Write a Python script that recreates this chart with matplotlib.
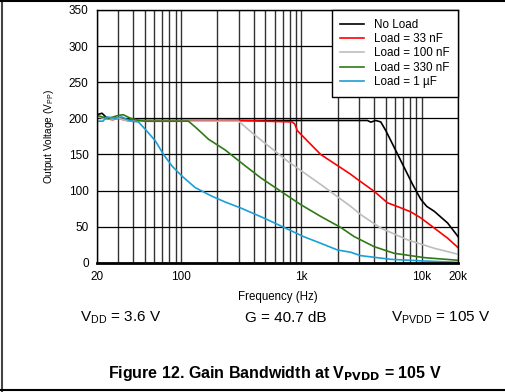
import numpy as np
import matplotlib
matplotlib.use('Agg')
import matplotlib.pyplot as plt
from matplotlib.lines import Line2D

plt.rcParams['font.family'] = ['Liberation Sans', 'DejaVu Sans']

# curves (Hz, Vpp)
f_noload = [20, 22, 24, 27, 30, 35, 40, 60, 100, 300, 1000, 3000, 3536, 3767, 4150, 4561,
            5024, 5890, 7138, 8389, 9834, 11000, 12700, 16400, 20000]
v_noload = [205, 207, 201, 199, 201, 198, 197, 197, 197, 197, 197, 197, 197, 194.7, 197, 195,
            183, 160, 132, 108.5, 87.6, 78, 71.2, 55, 36.3]

f_33n = [20, 23, 27, 30, 35, 40, 60, 100, 300, 839, 880, 923, 1443, 2566, 2919, 4013,
         5187, 6699, 8110, 9834, 12700, 16400, 20000]
v_33n = [203, 200, 198, 200, 197, 196, 196, 196, 197, 195, 192, 183, 150, 122.5, 115.5, 99,
         83, 76, 70.4, 62, 48, 34, 21]

f_100n = [20, 23, 27, 30, 35, 40, 60, 100, 200, 301, 401, 762, 1443, 2566, 3110, 4561,
          7615, 12700, 20000]
v_100n = [202, 200, 199, 200, 197, 196, 196, 196, 196, 196, 178, 141, 108.5, 78, 66.6, 48,
          31.7, 20, 11.7]

f_330n = [20, 22, 25, 30, 33, 38, 45, 50, 100, 115, 131, 169, 233, 330, 456, 670, 984, 1443,
          2119, 2735, 4013, 5890, 10560, 20000]
v_330n = [204, 202, 200, 204, 205, 200, 197, 196, 196, 196, 188, 171, 156, 136, 117.9, 99.2,
          80.6, 64.2, 48.9, 36.3, 22.3, 13.1, 7, 3.4]

f_1u = [20, 22.4, 24.1, 28.3, 32, 36, 38.9, 44.2, 50.2, 60.9, 71.4, 83.9, 101.6, 131, 180.7,
        233, 311, 486, 714, 1047, 1443, 1990, 2566, 3110, 5532, 10410, 20000]
v_1u = [196, 196, 202, 200, 202, 198, 196, 195, 185, 169, 150, 134, 120, 104, 92, 84, 76,
        62, 49, 36, 27, 17.7, 14.5, 9.8, 4.7, 2.4, 0.5]

labels = ['No Load', 'Load = 33 nF', 'Load = 100 nF', 'Load = 330 nF', 'Load = 1 µF']
colors = ['black', '#ff0000', '#bdbdbd', '#2f7a17', '#1a9fd6']

fig = plt.figure(figsize=(5.05, 3.92), dpi=100)
ax = fig.add_axes([0.1921, 0.3298, 0.7148, 0.6447])

series = [(f_noload, v_noload), (f_33n, v_33n), (f_100n, v_100n), (f_330n, v_330n), (f_1u, v_1u)]
for (f, v), lab, c in zip(series, labels, colors):
    ax.plot(f, v, color=c, lw=1.2, label=lab)

ax.set_xscale('log')
ax.set_xlim(20, 20000)
ax.set_ylim(0, 350)
ax.set_yticks(np.arange(0, 351, 50))
ax.set_xticks([20, 100, 1000, 10000, 20000])
ax.set_xticklabels(['20', '100', '1k', '10k', '20k'])
minor = [m * 10 ** e for e in range(1, 4) for m in range(2, 10)]
ax.set_xticks([m for m in minor if 20 < m < 20000], minor=True)
ax.xaxis.set_minor_formatter(plt.NullFormatter())
ax.tick_params(which='both', length=0, labelsize=8.5, pad=6)
ax.grid(True, which='both', axis='x', color='#333333', lw=1.0)
ax.grid(True, which='major', axis='y', color='black', lw=0.9)
for s in ax.spines.values():
    s.set_linewidth(1.0)
ax.spines['bottom'].set_linewidth(2.0)

ax.set_xlabel('Frequency (Hz)', fontsize=8.3, labelpad=6)
ax.set_ylabel('Output Voltage (V$_{\\mathregular{PP}}$)', fontsize=7.3, labelpad=9)

leg = ax.legend(loc='upper right', fontsize=8.4, frameon=True, fancybox=False, framealpha=1,
                borderaxespad=0, handlelength=2.0, handletextpad=0.85, labelspacing=0.2,
                borderpad=0.75)
leg.get_frame().set_edgecolor('black')
leg.get_frame().set_linewidth(1.0)

fig.text(0.238, 0.19, 'V$_{\\mathregular{DD}}$ = 3.6 V', fontsize=11, ha='center', va='center')
fig.text(0.565, 0.19, 'G = 40.7 dB', fontsize=11, ha='center', va='center')
fig.text(0.873, 0.19, 'V$_{\\mathregular{PVDD}}$ = 105 V', fontsize=11, ha='center', va='center')
fig.text(0.545, 0.046, 'Figure 12. Gain Bandwidth at V$_{\\mathbf{PVDD}}$ = 105 V',
         fontsize=11.5, fontweight='bold', ha='center', va='center')

# page border lines
fig.add_artist(Line2D([0.004, 0.004], [0, 1], transform=fig.transFigure, color='#444444', lw=1.5))
fig.add_artist(Line2D([0, 1], [0.998, 0.998], transform=fig.transFigure, color='black', lw=1.5))
fig.add_artist(Line2D([0, 1], [0.004, 0.004], transform=fig.transFigure, color='black', lw=1.5))

fig.savefig('out.png', dpi=100)
